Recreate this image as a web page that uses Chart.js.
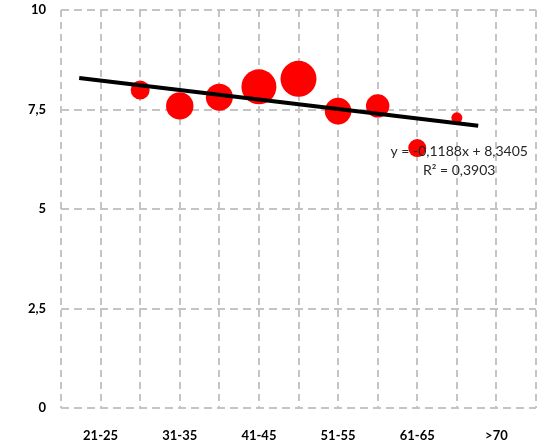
<!DOCTYPE html>
<html>
<head>
<meta charset="utf-8">
<script src="https://cdn.jsdelivr.net/npm/chart.js@4"></script>
<style>
    html, body { margin: 0; padding: 0; background: #fff; }
    #wrap { width: 538px; height: 443px; }
</style>
</head>
<body>
<div id="wrap"><canvas id="bubbleChart" width="538" height="443"></canvas></div>
<script>
// Catégories d'âge (position 1 à 11 sur l'axe X)
const ageGroups = ['21-25', '26-30', '31-35', '36-40', '41-45', '46-50', '51-55', '56-60', '61-65', '66-70', '>70'];

// Bulles : position sur l'axe, note moyenne, taille de la bulle
const bubbleX = [2, 3, 4, 5, 6, 7, 8, 9, 10];
const bubbleY = [7.99, 7.59, 7.81, 8.07, 8.27, 7.46, 7.59, 6.53, 7.29];
const bubbleR = [9.5, 13.7, 13.5, 17.5, 18, 13.3, 11.7, 9, 5.5];

// Courbe de tendance (extrémités)
const trendX = [0.46, 10.54];
const trendY = [8.29, 7.09];
const trendText = ['y = -0,1188x + 8,3405', 'R² = 0,3903'];

// Graduations de l'axe Y
const yTicks = [0, 2.5, 5, 7.5, 10];

const FONT = 'Lato, "Open Sans", sans-serif';

// Affiche l'équation de la tendance
const trendLabel = {
    id: 'trendLabel',
    afterDatasetsDraw(chart) {
        const { ctx, scales } = chart;
        const cx = scales.x.getPixelForValue(10.06);
        const y1 = scales.y.getPixelForValue(6.45);
        ctx.save();
        ctx.fillStyle = '#262626';
        ctx.font = '14px ' + FONT;
        ctx.textAlign = 'center';
        ctx.textBaseline = 'middle';
        ctx.fillText(trendText[0], cx, y1);
        ctx.fillText(trendText[1], cx, y1 + 19);
        ctx.restore();
    }
};

const gridStyle = {
    color: '#c4c4c4',
    lineWidth: 2,
    drawTicks: false
};

new Chart(document.getElementById('bubbleChart'), {
    type: 'bubble',
    data: {
        datasets: [
            {
                type: 'line',
                data: trendX.map((x, i) => ({ x: x, y: trendY[i] })),
                borderColor: '#000',
                borderWidth: 4,
                pointRadius: 0,
                order: 0
            },
            {
                data: bubbleX.map((x, i) => ({ x: x, y: bubbleY[i], r: bubbleR[i] })),
                backgroundColor: '#ff0000',
                borderWidth: 0,
                order: 1
            }
        ]
    },
    options: {
        responsive: false,
        animation: false,
        layout: { autoPadding: false, padding: { top: 10, right: 2, left: 0, bottom: 0 } },
        plugins: { legend: { display: false }, tooltip: { enabled: false } },
        scales: {
            x: {
                type: 'linear',
                min: 0,
                max: 12,
                grid: gridStyle,
                border: { display: false, dash: [7, 5] },
                ticks: {
                    stepSize: 1,
                    autoSkip: false,
                    maxRotation: 0,
                    padding: 20,
                    color: '#000',
                    font: { family: FONT, size: 13, weight: 'bold' },
                    callback: v => (v % 2 === 1 && v <= ageGroups.length) ? ageGroups[v - 1] : ''
                },
                afterFit: s => { s.height = 35; s.paddingLeft = 0; s.paddingRight = 0; }
            },
            y: {
                min: 0,
                max: 10,
                grid: gridStyle,
                border: { display: false, dash: [8, 5] },
                afterBuildTicks: s => { s.ticks = yTicks.map(v => ({ value: v })); },
                ticks: {
                    padding: 15,
                    color: '#000',
                    font: { family: FONT, size: 13, weight: 'bold' },
                    callback: v => String(v).replace('.', ',')
                },
                afterFit: s => { s.width = 61; s.paddingTop = 0; s.paddingBottom = 0; }
            }
        }
    },
    plugins: [trendLabel]
});
</script>
</body>
</html>
